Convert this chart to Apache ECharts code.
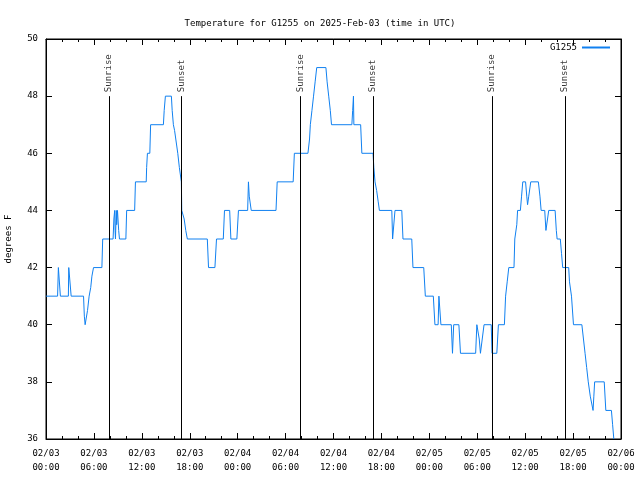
<!DOCTYPE html>
<html>
<head>
<meta charset="utf-8">
<script src="https://cdn.jsdelivr.net/npm/echarts@6/dist/echarts.min.js"></script>
<style>html,body{margin:0;padding:0;background:#fff}#c{width:640px;height:480px}</style>
</head>
<body>
<div id="c"></div>
<script>
// hours since 2025-02-03 00:00 UTC, temperature (°F)
var tempSeries = [
[0,41],[1.45,41],[1.55,42],[1.7,42],[1.8,41],[2.8,41],[2.85,42],[3.05,42],[3.15,41],[4.7,41],[4.8,40.3],[4.9,40],[5.1,40],[5.2,40.5],[5.4,41],[5.6,41.3],[5.75,41.7],[5.95,42],[7.0,42],[7.1,43],[8.4,43],[8.5,43.7],[8.6,44],[8.65,43.3],[8.7,43],[8.8,44],[8.85,43.5],[8.95,44],[9.1,43.3],[9.2,43],[10.0,43],[10.1,44],[11.1,44],[11.2,45],[12.55,45],[12.6,45.5],[12.7,46],[13.0,46],[13.1,47],[14.7,47],[14.8,47.5],[14.95,48],[15.7,48],[15.8,47.5],[15.95,47],[16.1,46.8],[16.25,46.5],[16.5,46],[16.7,45.5],[16.95,45],[17.0,44],[17.15,44],[17.3,43.7],[17.5,43.3],[17.7,43],
[20.2,43],[20.35,42],[21.15,42],[21.35,43],[22.2,43],[22.35,44],[23.0,44],[23.15,43],[23.9,43],[24.1,44],[25.25,44],[25.35,45],[25.45,44.5],[25.7,44],[28.8,44],[28.95,45],[30.95,45],[31.1,46],[32.8,46],[33.0,46.5],[33.1,47],[33.3,47.5],[33.5,48],[33.7,48.5],[33.9,49],[35.05,49],[35.2,48.5],[35.4,48],[35.6,47.5],[35.75,47],[38.3,47],[38.4,47.5],[38.5,48],[38.55,47],[39.4,47],[39.55,46],[40.95,46],[41.05,45.5],[41.2,45],[41.4,44.7],[41.6,44.3],[41.75,44],
[43.3,44],[43.4,43],[43.55,43],[43.7,44],[44.55,44],[44.7,43],[45.8,43],[45.95,42],[47.3,42],[47.5,41],[48.5,41],[48.7,40],[49.1,40],[49.2,41],[49.35,41],[49.45,40],[50.75,40],[50.9,39],[51.05,40],[51.7,40],[51.9,39],[53.8,39],[53.95,40],[54.15,40],[54.25,39.5],[54.4,39],[54.65,39],[54.85,40],[55.75,40],[55.85,39],[56.45,39],[56.65,40],[57.4,40],[57.55,41],[57.75,41.5],[57.95,42],[58.6,42],[58.7,43],[58.95,43.5],[59.05,44],[59.4,44],[59.55,44.5],[59.7,45],[60.05,45],[60.2,44.5],[60.3,44.2],[60.45,44.5],[60.7,45],[61.65,45],[61.85,44.5],[62.0,44],[62.45,44],[62.6,43.3],[62.75,43.3],[62.95,44],[63.75,44],[63.9,43.3],[64.0,43],[64.4,43],[64.55,42.5],[64.7,42],[65.45,42],[65.55,41.5],[65.8,41],[66.05,40],[67.1,40],[67.3,39.5],[67.5,39],[67.7,38.5],[67.9,38],[68.15,37.5],[68.5,37],[68.6,37.5],[68.7,38],[69.9,38],[70.1,37],[70.8,37],[70.95,36.5],[71.1,36]
];
var eventTimes = [7.87, 16.95, 31.85, 40.95, 55.83, 65.0];
var eventNames = ["Sunrise", "Sunset", "Sunrise", "Sunset", "Sunrise", "Sunset"];
var eventTop = 48;
var xTickLabels = ["02/03\n00:00","02/03\n06:00","02/03\n12:00","02/03\n18:00","02/04\n00:00","02/04\n06:00","02/04\n12:00","02/04\n18:00","02/05\n00:00","02/05\n06:00","02/05\n12:00","02/05\n18:00","02/06\n00:00"];
var yTickLabels = ["36","38","40","42","44","46","48","50"];
var seriesName = "G1255";
var titleText = "Temperature for G1255 on 2025-Feb-03 (time in UTC)";
var yAxisTitle = "degrees F";

var FONT = "'DejaVu Sans Mono', 'Liberation Mono', monospace";
var FS = 9;
var LINE_COLOR = '#1080f0';
var chart = echarts.init(document.getElementById('c'), null, {renderer: 'canvas'});
var axisCommon = {
  type: 'value',
  axisLine: {show: true, onZero: false, lineStyle: {color: '#000', width: 1}},
  splitLine: {show: false}
};
var opt = {
  animation: false,
  backgroundColor: '#fff',
  title: {text: titleText, left: 'center', top: 14,
    textStyle: {fontFamily: FONT, fontSize: FS, fontWeight: 'normal', color: '#000'}},
  legend: {right: 30, top: 43, align: 'right', icon: 'rect', itemWidth: 28, itemHeight: 2, padding: 0,
    itemStyle: {color: LINE_COLOR, borderWidth: 0},
    data: [seriesName],
    textStyle: {fontFamily: FONT, fontSize: FS, color: '#000'}},
  grid: {left: 46, right: 19, top: 39, bottom: 41, containLabel: false, outerBoundsMode: 'none',
    show: true, borderColor: '#000', borderWidth: 1},
  xAxis: [
    Object.assign({}, axisCommon, {min: 0, max: 72, interval: 6, position: 'bottom',
      axisTick: {inside: true, length: 6, lineStyle: {color: '#000'}},
      minorTick: {show: true, splitNumber: 3, length: 3, lineStyle: {color: '#000'}},
      axisLabel: {margin: 8, lineHeight: 14, fontFamily: FONT, fontSize: FS, color: '#000',
        formatter: function (v) { return xTickLabels[Math.round(v / 6)]; }}}),
    Object.assign({}, axisCommon, {min: 0, max: 72, interval: 6, position: 'top',
      axisTick: {inside: true, length: 6, lineStyle: {color: '#000'}},
      minorTick: {show: true, splitNumber: 3, length: 3, lineStyle: {color: '#000'}},
      axisLabel: {show: false}})
  ],
  yAxis: [
    Object.assign({}, axisCommon, {min: 36, max: 50, interval: 2, position: 'left',
      name: yAxisTitle, nameLocation: 'middle', nameGap: 33, nameRotate: 90,
      nameTextStyle: {fontFamily: FONT, fontSize: FS, color: '#000'},
      axisTick: {inside: true, length: 6, lineStyle: {color: '#000'}},
      axisLabel: {margin: 8, fontFamily: FONT, fontSize: FS, color: '#000',
        formatter: function (v) { return yTickLabels[Math.round((v - 36) / 2)]; }}}),
    Object.assign({}, axisCommon, {min: 36, max: 50, interval: 2, position: 'right',
      axisTick: {inside: true, length: 6, lineStyle: {color: '#000'}},
      axisLabel: {show: false}})
  ],
  series: [
    {
      name: seriesName, type: 'line', data: tempSeries, symbol: 'none', showSymbol: false,
      lineStyle: {color: LINE_COLOR, width: 1}, itemStyle: {color: LINE_COLOR}, z: 3
    },
    {
      name: 'events', type: 'scatter', symbolSize: 0, z: 2,
      data: eventTimes.map(function (t, i) { return [t, eventTop, eventNames[i]]; }),
      label: {show: true, position: 'inside', rotate: 90, align: 'left', verticalAlign: 'middle',
        offset: [4, 0],
        fontFamily: FONT, fontSize: FS, color: '#000',
        formatter: function (p) { return p.data[2]; }},
      markLine: {
        silent: true, symbol: 'none', label: {show: false},
        lineStyle: {color: '#000', width: 1, type: 'solid'},
        data: eventTimes.map(function (t) { return [{coord: [t, 36]}, {coord: [t, eventTop]}]; })
      }
    }
  ]
};
chart.setOption(opt);
</script>
</body>
</html>
